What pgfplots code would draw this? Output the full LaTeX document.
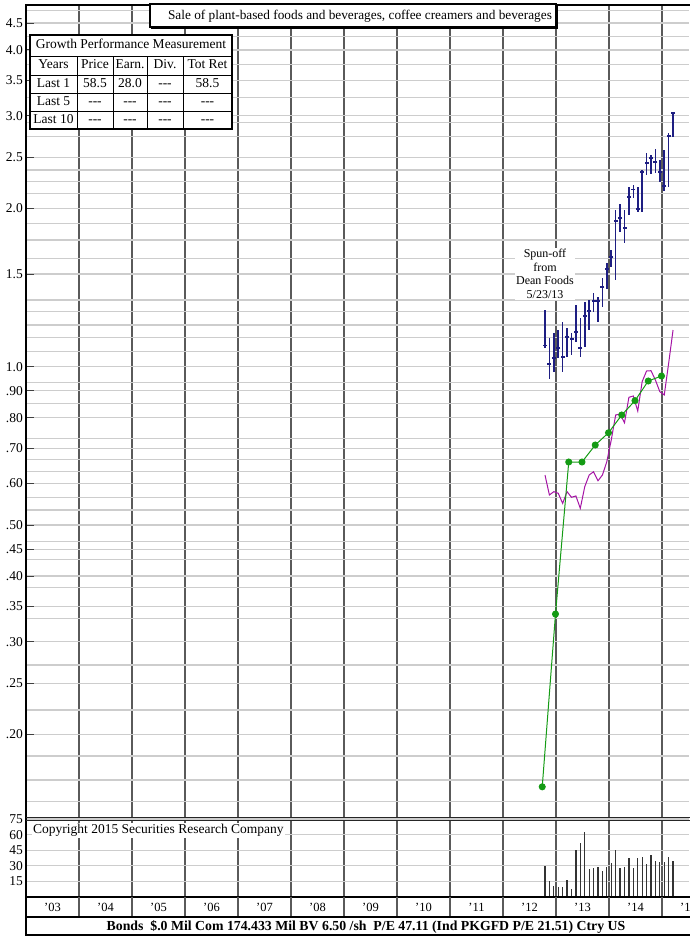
\documentclass[border=0pt]{standalone}
\usepackage{pgfplots}
\pgfplotsset{compat=1.18}
\usepackage{pgfplotstable}
\usepackage{fontspec}
\setmainfont{Liberation Serif}

\definecolor{barblue}{RGB}{30,30,130}
\definecolor{epsgreen}{RGB}{20,155,20}
\definecolor{rsmag}{RGB}{165,20,165}
\definecolor{gridlt}{RGB}{205,205,205}
\definecolor{griddk}{RGB}{90,90,90}
\newcommand\tf{\fontsize{13.5}{15}\selectfont}

% monthly: high, low, close, relative strength line, volume
\pgfplotstableread{
x        h     l     c     r      v
2012.792 1.282 1.085 1.096 0.6223 30.1
2012.875 1.134 0.948 1.012 0.5704 15.4
2012.958 1.159 0.977 1.039 0.5787 10.6
2013.042 1.174 1.039 1.085 0.5746 9.9
2013.125 1.216 0.977 1.043 0.5498 9.3
2013.208 1.185 1.043 1.139 0.5787 16.3
2013.292 1.159 1.053 1.129 0.5646 7.4
2013.375 1.310 1.114 1.164 0.5679 45.2
2013.458 1.238 1.043 1.085 0.5380 52.2
2013.542 1.327 1.090 1.248 0.5914 62.8
2013.625 1.339 1.174 1.276 0.6223 26.9
2013.708 1.381 1.270 1.333 0.6314 28.2
2013.792 1.357 1.216 1.333 0.6070 28.6
2013.875 1.474 1.299 1.418 0.6223 25.3
2013.958 1.574 1.405 1.534 0.6598 29.1
2014.042 1.667 1.547 1.617 0.7254 32.4
2014.125 1.986 1.462 1.892 0.8094 45.2
2014.208 2.039 1.804 1.918 0.8129 27.6
2014.292 1.986 1.719 1.835 0.7826 29.1
2014.375 2.196 1.943 2.102 0.8745 37.2
2014.458 2.215 2.093 2.168 0.8797 27.6
2014.542 2.196 1.968 1.994 0.8236 37.2
2014.625 2.366 1.968 2.345 0.9365 38.2
2014.708 2.549 2.314 2.439 0.9813 31.7
2014.792 2.527 2.324 2.493 0.9826 40.4
2014.875 2.594 2.334 2.450 0.9434 34.9
2014.958 2.472 2.245 2.345 0.8965 33.9
2015.042 2.582 2.158 2.205 0.8835 33.9
2015.125 2.782 2.196 2.745 1.015  38.8
2015.208 3.035 2.733 3.035 1.174  34.6
}\monthly

% quarterly earnings line
\pgfplotstableread{
x       e
2012.74 0.1590
2012.99 0.3387
2013.24 0.6589
2013.49 0.6589
2013.74 0.7098
2013.99 0.7489
2014.24 0.8094
2014.49 0.8618
2014.74 0.9393
2014.99 0.9600
}\quarterly

\pgfplotsset{
  srcbase/.style={
    scale only axis, width=663pt,
    xmin=2003, xmax=2015.509,
    axis line style={draw=none},
    xtick={2003,2004,...,2015}, xticklabels={},
    minor x tick num=3,
    xmajorgrids, xminorgrids,
    major x grid style={griddk, line width=1.2pt},
    minor x grid style={gridlt, line width=1.2pt},
    ymajorgrids, yminorgrids,
    major y grid style={gridlt, line width=1.2pt},
    minor y grid style={gridlt, line width=1.2pt},
    x tick style={draw=none},
    ytick pos=left, tick align=inside,
    y tick style={black!75, line width=1pt},
    major tick length=8pt, minor tick length=0pt,
    yticklabel style={font=\tf, inner sep=1pt, xshift=-2pt},
  }
}

\begin{document}
\begin{tikzpicture}
\useasboundingbox (0,0) rectangle (689pt,-937pt);

\begin{axis}[srcbase, at={(26pt,-818pt)}, anchor=south west, height=813pt,
  ymode=log, ymin=0.1387, ymax=4.87,
  ytick={0.2,0.25,0.3,0.35,0.4,0.45,0.5,0.6,0.7,0.8,0.9,1.0,1.5,2.0,2.5,3.0,3.5,4.0,4.5},
  yticklabels={.20,.25,.30,.35,.40,.45,.50,.60,.70,.80,.90,1.0,1.5,2.0,2.5,3.0,3.5,4.0,4.5},
  minor ytick={0.149,0.1638,0.1819,0.2225,0.271,0.3324,0.381,0.43,0.465,0.534,0.565,0.631,0.667,0.731,0.85,0.932,1.068,1.137,1.2,1.272,1.339,1.607,1.741,1.874,2.136,2.248,2.366,2.737,2.911,3.25,3.75,4.25,4.75},
]
\addplot[rsmag, line width=1pt] table[x=x, y=r] {\monthly};
\addplot[epsgreen, line width=1pt, mark=*, mark size=3pt] table[x=x, y=e] {\quarterly};
\addplot[barblue, only marks, mark=-, mark size=2pt, mark options={line width=1.2pt},
  error bars/.cd, y dir=both, y explicit, error mark=none,
  error bar style={line width=1.6pt, barblue}]
  table[x=x, y=c, y error plus expr=\thisrow{h}-\thisrow{c},
        y error minus expr=\thisrow{c}-\thisrow{l}] {\monthly};
\end{axis}

\begin{axis}[srcbase, at={(26pt,-897pt)}, anchor=south west, height=78pt,
  ymin=0, ymax=75, ytick={15,30,45,60,75}, yticklabels={15,30,45,60,75},
  major tick length=0pt]
\addplot[ycomb, black!80, line width=1.3pt] table[x=x, y=v] {\monthly};
\end{axis}

\begin{scope}[x=1pt, y=-1pt, font=\tf]
  % frame
  \draw[line width=2.5pt] (26,5) -- (700,5);
  \draw[line width=2.5pt] (26,4) -- (26,936);
  \draw[black!85, line width=1pt] (26,817.5) -- (700,817.5) (26,820.5) -- (700,820.5);
  \draw[line width=2.5pt] (26,897) -- (700,897);
  \foreach \k in {1,...,12} \draw[griddk, line width=1.2pt] ({26+53*\k},897) -- ({26+53*\k},917);
  \foreach \yr [count=\k from 0] in {03,04,05,06,07,08,09,10,11,12,13,14,15}
    \node[font=\fontsize{12.5}{12.5}\selectfont] at ({52.5+53*\k},907) {'\yr};
  \draw[line width=1.5pt] (26,917) -- (700,917);
  \draw[line width=2.5pt] (26,935) -- (700,935);
  \node[font=\fontsize{13.8}{15}\selectfont\bfseries] at (366,926.5)
    {Bonds\ \ \$.0 Mil Com 174.433 Mil BV 6.50 /sh\ \ P/E 47.11 (Ind PKGFD P/E 21.51) Ctry US};

  % title box
  \fill[white] (150,4) rectangle (556,27);
  \draw[line width=1.3pt] (150,4) rectangle (556,27);
  \draw[line width=1.5pt] (151,28) -- (557.5,28) -- (557.5,5);
  \node[font=\fontsize{13.3}{15}\selectfont] at (360,16.5)
    {Sale of plant-based foods and beverages, coffee creamers and beverages};

  % growth table
  \fill[white] (30,35) rectangle (232,129);
  \draw[line width=1.2pt] (30,35) rectangle (232,129);
  \foreach \yy in {56,75,93,111} \draw[line width=1pt] (30,\yy) -- (232,\yy);
  \foreach \xx in {77,113,147,183} \draw[line width=1pt] (\xx,56) -- (\xx,129);
  \tikzset{cell/.style={text height=9pt, text depth=3pt, inner sep=0pt}}
  \node[cell] at (131,45.5) {Growth Performance Measurement};
  \node[cell] at (53.5,65.5) {Years};
  \node[cell] at (95,65.5) {Price};
  \node[cell] at (130,65.5) {Earn.};
  \node[cell] at (165,65.5) {Div.};
  \node[cell] at (207.5,65.5) {Tot Ret};
  \node[cell] at (53.5,84) {Last 1};
  \node[cell] at (95,84) {58.5};
  \node[cell] at (130,84) {28.0};
  \node[cell] at (165,84) {-\/-\/-};
  \node[cell] at (207.5,84) {58.5};
  \node[cell] at (53.5,102) {Last 5};
  \node[cell] at (53.5,120) {Last 10};
  \foreach \xx in {95,130,165,207.5} {
    \node[cell] at (\xx,102) {-\/-\/-};
    \node[cell] at (\xx,120) {-\/-\/-};
  }

  % notes
  \node[fill=white, align=center, inner sep=1pt, font=\fontsize{12}{13.5}\selectfont]
    at (545,274) {Spun-off\\from\\Dean Foods\\5/23/13};
  \node[fill=white, anchor=west, inner sep=1pt] at (32,830.5)
    {Copyright 2015 Securities Research Company};
\end{scope}
\end{tikzpicture}
\end{document}
